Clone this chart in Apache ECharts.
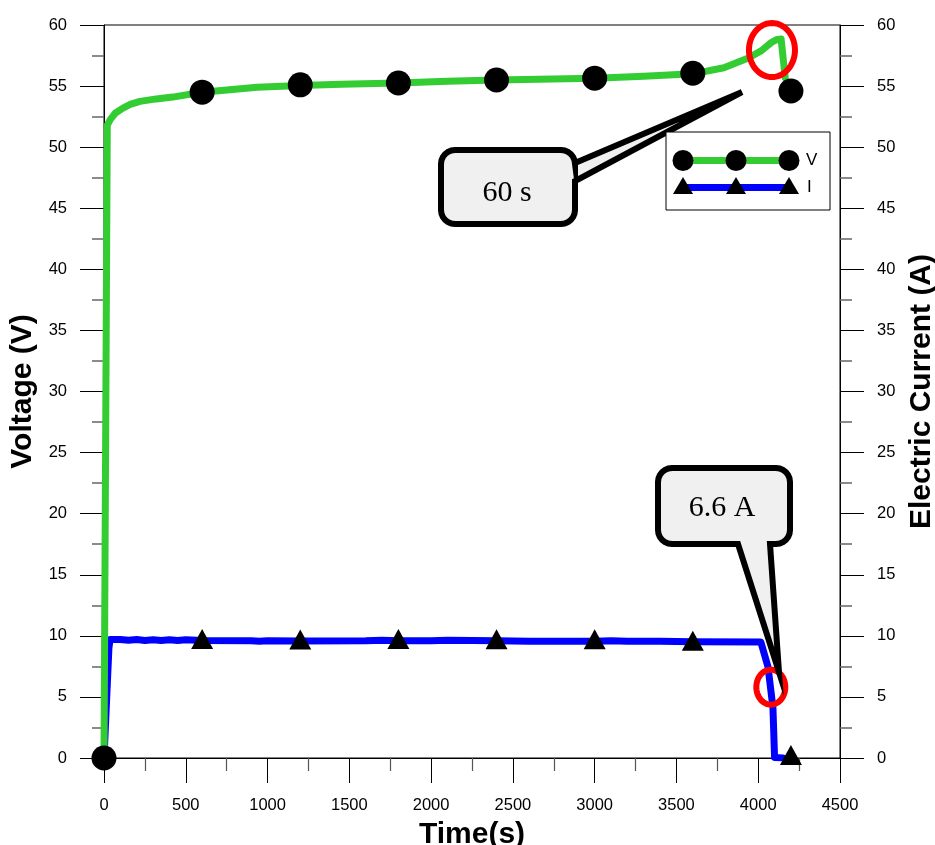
<!DOCTYPE html>
<html>
<head>
<meta charset="utf-8">
<script src="https://cdn.jsdelivr.net/npm/echarts@6/dist/echarts.min.js"></script>
<style>html,body{margin:0;padding:0;background:#fff}#c{width:935px;height:845px}</style>
</head>
<body>
<div id="c"></div>
<script>
// Voltage trace (time s, volts)
const voltTime = [0, 20, 40, 70, 116, 160, 220, 320, 420, 600, 936, 1200, 1450, 1800, 2100, 2400, 3000, 3300, 3600, 3790, 3940, 4020, 4078, 4110, 4140, 4165];
const voltValue = [0, 51.8, 52.3, 52.8, 53.2, 53.5, 53.75, 53.95, 54.1, 54.5, 54.9, 55.05, 55.15, 55.25, 55.4, 55.5, 55.65, 55.8, 56.0, 56.5, 57.3, 57.9, 58.55, 58.8, 58.85, 55.7];
// Current trace (time s, amps)
const currTime = [0, 30, 37, 100, 150, 200, 250, 300, 350, 400, 450, 500, 600, 900, 950, 1000, 1200, 1600, 1700, 1800, 2000, 2100, 2400, 2600, 2800, 3000, 3100, 3200, 3400, 3600, 4016, 4060, 4090, 4100, 4150];
const currValue = [0, 9.0, 9.7, 9.7, 9.63, 9.7, 9.62, 9.68, 9.62, 9.68, 9.62, 9.67, 9.62, 9.6, 9.55, 9.6, 9.58, 9.6, 9.64, 9.6, 9.6, 9.64, 9.6, 9.55, 9.55, 9.56, 9.6, 9.55, 9.55, 9.52, 9.5, 7.45, 4.1, 0.05, 0];
// Marker points
const markTime = [0, 600, 1200, 1800, 2400, 3000, 3600, 4200];
const voltMarks = [0, 54.5, 55.1, 55.25, 55.5, 55.65, 56.05, 54.6];
const currMarkTime = [600, 1200, 1800, 2400, 3000, 3600, 4200];
const currMarks = [9.75, 9.7, 9.75, 9.72, 9.72, 9.6, 0.25];
// Axis ticks
const xTicks = {min: 0, max: 4500, step: 500};
const yTicks = {min: 0, max: 60, step: 5};
const names = {x: 'Time(s)', yLeft: 'Voltage (V)', yRight: 'Electric Current (A)', v: 'V', i: 'I'};
const callouts = {peak: '60 s', drop: '6.6 A'};
// annotated data points
const peakPoint = [4084, 57.95];
const dropPoint = [4077, 5.8];

const pair = (xs, ys) => xs.map((x, k) => [x, ys[k]]);
const FONT = '"Liberation Sans", Arial, sans-serif';
const SERIF = '"Liberation Serif", "Times New Roman", serif';

function yAx(pos, name, gap) {
  return {
    type: 'value', position: pos, min: yTicks.min, max: yTicks.max, interval: yTicks.step,
    name: name, nameLocation: 'middle', nameRotate: 90, nameGap: gap,
    nameTextStyle: {fontFamily: FONT, fontSize: 30, fontWeight: 'bold', color: '#000'},
    axisLine: {show: true, lineStyle: {color: '#000', width: 1}},
    axisTick: {show: true, inside: false, length: 24, lineStyle: {color: '#000', width: 1}},
    minorTick: {show: true, splitNumber: 2, length: 12, lineStyle: {color: '#666', width: 1.5}},
    axisLabel: {margin: 37, fontSize: 16.5, color: '#000', fontFamily: FONT, formatter: v => String(v)},
    splitLine: {show: false}, minorSplitLine: {show: false}
  };
}

const chart = echarts.init(document.getElementById('c'), null, {renderer: 'canvas'});
chart.setOption({
  animation: false,
  backgroundColor: '#fff',
  grid: {left: 104, right: 95, top: 25, bottom: 87, containLabel: false, outerBoundsMode: 'none',
         show: true, borderColor: '#000', borderWidth: 1, backgroundColor: 'transparent'},
  xAxis: {
    type: 'value', min: xTicks.min, max: xTicks.max, interval: xTicks.step,
    name: names.x, nameLocation: 'middle', nameGap: 62,
    nameTextStyle: {fontFamily: FONT, fontSize: 30, fontWeight: 'bold', color: '#000'},
    axisLine: {show: true, onZero: false, lineStyle: {color: '#000', width: 1}},
    axisTick: {show: true, inside: false, length: 25, lineStyle: {color: '#000', width: 1}},
    minorTick: {show: true, splitNumber: 2, length: 13, lineStyle: {color: '#555', width: 1.2}},
    axisLabel: {margin: 39, fontSize: 16.5, color: '#000', fontFamily: FONT, formatter: v => String(v)},
    splitLine: {show: false}, minorSplitLine: {show: false}
  },
  yAxis: [yAx('left', names.yLeft, 64), yAx('right', names.yRight, 57)],
  series: [
    {name: names.i, type: 'line', yAxisIndex: 1, data: pair(currTime, currValue), showSymbol: false,
     lineStyle: {color: '#0000ff', width: 7, join: 'round', cap: 'round'}, z: 2},
    {name: names.v, type: 'line', yAxisIndex: 0, data: pair(voltTime, voltValue), showSymbol: false,
     lineStyle: {color: '#33cc33', width: 7, join: 'round', cap: 'round'}, z: 3},
    {name: names.i + ' marks', type: 'scatter', yAxisIndex: 1, data: pair(currMarkTime, currMarks),
     symbol: 'triangle', symbolSize: [22, 20], itemStyle: {color: '#000', opacity: 1}, z: 4},
    {name: names.v + ' marks', type: 'scatter', yAxisIndex: 0, data: pair(markTime, voltMarks),
     symbol: 'circle', symbolSize: 25, itemStyle: {color: '#000', opacity: 1}, z: 5}
  ]
});

const pk = chart.convertToPixel({xAxisIndex: 0, yAxisIndex: 0}, peakPoint);
const dp = chart.convertToPixel({xAxisIndex: 0, yAxisIndex: 1}, dropPoint);

function arcPts(cx, cy, r, a0, a1, n) {
  const out = [];
  for (let k = 0; k <= n; k++) {
    const a = a0 + (a1 - a0) * k / n;
    out.push([cx + r * Math.cos(a), cy + r * Math.sin(a)]);
  }
  return out;
}
// rounded box outline with a wedge pointer, as polygon points
function boxPts(x0, y0, x1, y1, r, ptr) {
  const P = Math.PI, pts = [];
  pts.push(...arcPts(x1 - r, y0 + r, r, -P / 2, 0, 6));
  if (ptr.side === 'right') pts.push([x1, ptr.a], ptr.tip, [x1, ptr.b]);
  pts.push(...arcPts(x1 - r, y1 - r, r, 0, P / 2, 6));
  if (ptr.side === 'bottom') pts.push([ptr.b, y1], ptr.tip, [ptr.a, y1]);
  pts.push(...arcPts(x0 + r, y1 - r, r, P / 2, P, 6));
  pts.push(...arcPts(x0 + r, y0 + r, r, P, 1.5 * P, 6));
  return pts;
}
function ellipsePts(cx, cy, rx, ry) {
  const out = [];
  for (let k = 0; k < 72; k++) {
    const a = 2 * Math.PI * k / 72;
    out.push([cx + rx * Math.cos(a), cy + ry * Math.sin(a)]);
  }
  return out;
}

const calloutStyle = {fill: '#f0f0f0', stroke: '#000', lineWidth: 6, lineJoin: 'miter', miterLimit: 20};
const legendX = 666, legendY = 132;
const legItems = [];
[683, 736, 789].forEach(x => {
  legItems.push({type: 'circle', shape: {cx: x, cy: 160.5, r: 10.5}, style: {fill: '#000'}, z: 102});
  legItems.push({type: 'polygon', shape: {points: [[x - 10, 194], [x + 10, 194], [x, 177]]}, style: {fill: '#000'}, z: 102});
});

chart.setOption({
  graphic: [
    {type: 'polygon', shape: {points: ellipsePts(pk[0], pk[1], 23, 27)}, style: {fill: 'none', stroke: '#ff0000', lineWidth: 6}, z: 100},
    {type: 'polygon', shape: {points: ellipsePts(dp[0], dp[1], 14.5, 17.5)}, style: {fill: 'none', stroke: '#ff0000', lineWidth: 6}, z: 100},
    {type: 'polygon', shape: {points: boxPts(441, 150, 575, 224, 14, {side: 'right', a: 163, b: 181, tip: [742, 92]})}, style: calloutStyle, z: 100},
    {type: 'text', x: 507, y: 193, style: {text: callouts.peak, font: '30px ' + SERIF, fill: '#000', align: 'center', verticalAlign: 'middle'}, z: 101},
    {type: 'polygon', shape: {points: boxPts(658, 468, 790, 544, 14, {side: 'bottom', a: 738, b: 770, tip: [779, 672]})}, style: calloutStyle, z: 100},
    {type: 'text', x: 722, y: 508, style: {text: callouts.drop, font: '30px ' + SERIF, fill: '#000', align: 'center', verticalAlign: 'middle'}, z: 101},
    {type: 'rect', shape: {x: legendX, y: legendY, width: 164, height: 78}, style: {fill: '#fff', stroke: '#000', lineWidth: 1}, z: 100},
    {type: 'line', shape: {x1: 683, y1: 160.5, x2: 789, y2: 160.5}, style: {stroke: '#33cc33', lineWidth: 7}, z: 101},
    {type: 'line', shape: {x1: 683, y1: 187.5, x2: 789, y2: 187.5}, style: {stroke: '#0000ff', lineWidth: 7}, z: 101},
    ...legItems,
    {type: 'text', x: 806, y: 160.5, style: {text: names.v, font: '17px ' + FONT, fill: '#000', verticalAlign: 'middle'}, z: 102},
    {type: 'text', x: 807, y: 187.5, style: {text: names.i, font: '17px ' + FONT, fill: '#000', verticalAlign: 'middle'}, z: 102}
  ]
});
</script>
</body>
</html>
